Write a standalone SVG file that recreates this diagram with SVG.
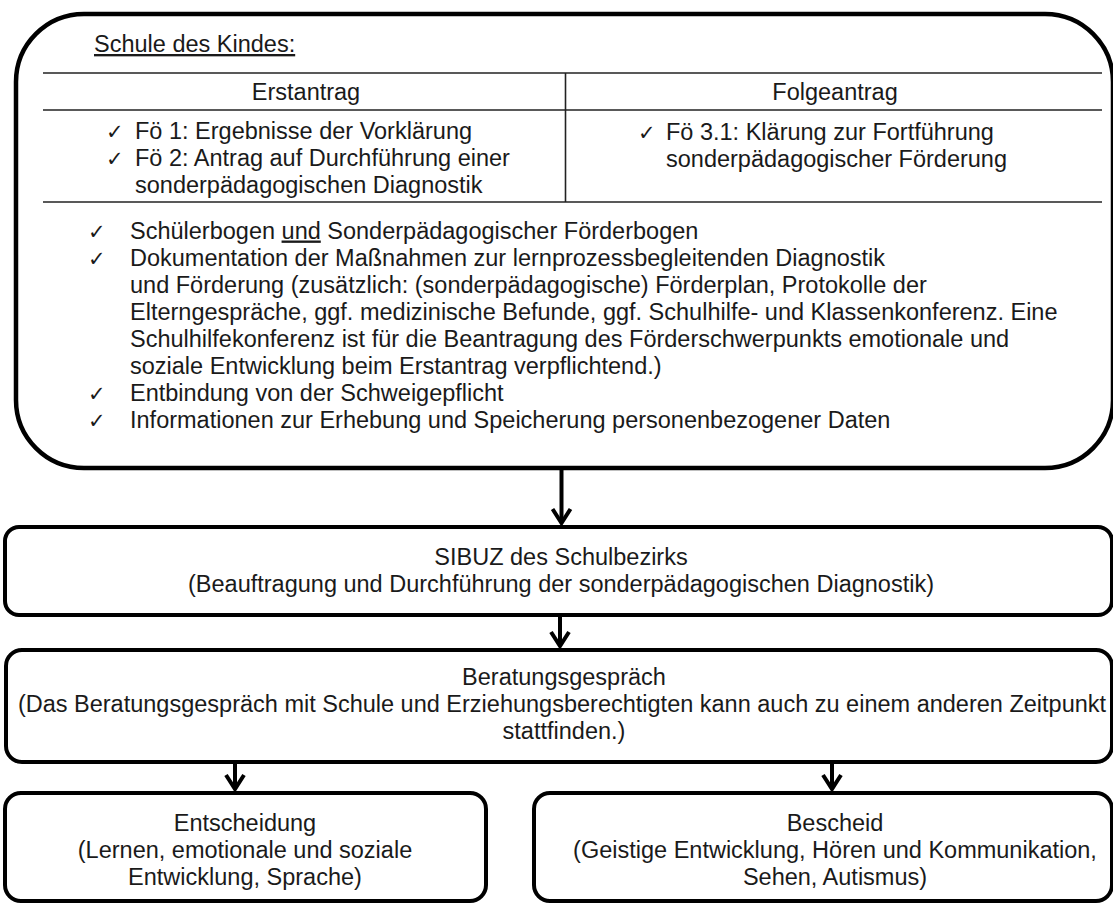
<svg xmlns="http://www.w3.org/2000/svg" width="1113" height="905" viewBox="0 0 1113 905">
<defs>
<style>
.t{font-family:"Liberation Sans",Arial,sans-serif;font-size:23.5px;fill:#1a1a1a}
.c{text-anchor:middle}
.ck{font-family:"DejaVu Sans",sans-serif;font-size:21px;fill:#1a1a1a}
.box{fill:#fff;stroke:#000;stroke-width:4}
.tl{stroke:#222;stroke-width:1.6}
.arr{stroke:#000;stroke-width:4;fill:none;marker-end:url(#ah)}
</style>
<marker id="ah" viewBox="0 0 20 22" refX="16" refY="11" markerWidth="20" markerHeight="22" markerUnits="userSpaceOnUse" orient="auto">
<path d="M2,2 L16,11 L2,20" fill="none" stroke="#000" stroke-width="4" stroke-linejoin="miter"/>
</marker>
</defs>
<rect width="1113" height="905" fill="#fff"/>

<g id="schule">
<rect class="box" x="16" y="14" width="1097" height="454" rx="68" ry="68" style="stroke-width:4.5"/>
<text class="t" x="94" y="52" text-decoration="underline">Schule des Kindes:</text>
<line class="tl" x1="43" y1="73" x2="1102" y2="73"/>
<line class="tl" x1="43" y1="110" x2="1102" y2="110"/>
<line class="tl" x1="43" y1="202" x2="1102" y2="202"/>
<line class="tl" x1="565.5" y1="73" x2="565.5" y2="202"/>
<text class="t c" x="306" y="100">Erstantrag</text>
<text class="t c" x="835" y="100">Folgeantrag</text>
<text class="ck" x="106" y="139">✓</text>
<text class="t" x="135" y="139">Fö 1: Ergebnisse der Vorklärung</text>
<text class="ck" x="106" y="166">✓</text>
<text class="t" x="135" y="166">Fö 2: Antrag auf Durchführung einer</text>
<text class="t" x="135" y="193">sonderpädagogischen Diagnostik</text>
<text class="ck" x="638" y="140">✓</text>
<text class="t" x="666" y="140">Fö 3.1: Klärung zur Fortführung</text>
<text class="t" x="666" y="167">sonderpädagogischer Förderung</text>
<text class="ck" x="88" y="238.5">✓</text>
<text class="t" x="130" y="238.5">Schülerbogen <tspan text-decoration="underline">und</tspan> Sonderpädagogischer Förderbogen</text>
<text class="ck" x="88" y="265.5">✓</text>
<text class="t" x="130" y="265.5">Dokumentation der Maßnahmen zur lernprozessbegleitenden Diagnostik</text>
<text class="t" x="130" y="292.5">und Förderung (zusätzlich: (sonderpädagogische) Förderplan, Protokolle der</text>
<text class="t" x="130" y="319.5">Elterngespräche, ggf. medizinische Befunde, ggf. Schulhilfe- und Klassenkonferenz. Eine</text>
<text class="t" x="130" y="346.5">Schulhilfekonferenz ist für die Beantragung des Förderschwerpunkts emotionale und</text>
<text class="t" x="130" y="373.5">soziale Entwicklung beim Erstantrag verpflichtend.)</text>
<text class="ck" x="88" y="400.5">✓</text>
<text class="t" x="130" y="400.5">Entbindung von der Schweigepflicht</text>
<text class="ck" x="88" y="427.5">✓</text>
<text class="t" x="130" y="427.5">Informationen zur Erhebung und Speicherung personenbezogener Daten</text>
</g>

<g id="sibuz">
<rect class="box" x="5" y="527" width="1107" height="88" rx="14" ry="14"/>
<text class="t c" x="561" y="565">SIBUZ des Schulbezirks</text>
<text class="t c" x="561" y="592">(Beauftragung und Durchführung der sonderpädagogischen Diagnostik)</text>
</g>

<g id="beratung">
<rect class="box" x="6" y="650" width="1106" height="112" rx="16" ry="16"/>
<text class="t c" x="564" y="685">Beratungsgespräch</text>
<text class="t c" x="562" y="712">(Das Beratungsgespräch mit Schule und Erziehungsberechtigten kann auch zu einem anderen Zeitpunkt</text>
<text class="t c" x="564" y="739">stattfinden.)</text>
</g>

<g id="entscheidung">
<rect class="box" x="5" y="793" width="481" height="108" rx="16" ry="16"/>
<text class="t c" x="245" y="831">Entscheidung</text>
<text class="t c" x="245" y="858">(Lernen, emotionale und soziale</text>
<text class="t c" x="245" y="885">Entwicklung, Sprache)</text>
</g>

<g id="bescheid">
<rect class="box" x="534" y="793" width="578" height="108" rx="16" ry="16"/>
<text class="t c" x="835" y="831">Bescheid</text>
<text class="t c" x="835" y="858">(Geistige Entwicklung, Hören und Kommunikation,</text>
<text class="t c" x="835" y="885">Sehen, Autismus)</text>
</g>

<g id="connectors">
<line class="arr" x1="561.5" y1="470" x2="561.5" y2="523"/>
<line class="arr" x1="560" y1="617" x2="560" y2="646"/>
<line class="arr" x1="235" y1="764" x2="235" y2="789"/>
<line class="arr" x1="832" y1="764" x2="832" y2="789"/>
</g>
</svg>
